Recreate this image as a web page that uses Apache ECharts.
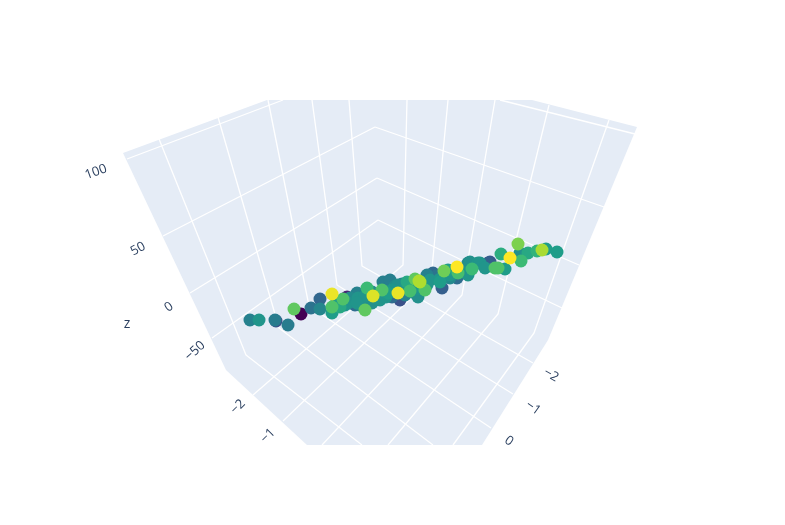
<!DOCTYPE html>
<html><head><meta charset="utf-8">
<style>html,body{margin:0;padding:0;background:#fff}#c{width:785px;height:525px}</style>
<script src="https://cdn.jsdelivr.net/npm/echarts@6/dist/echarts.min.js"></script>
</head><body><div id="c"></div>
<script>
// Plane of the picture: horizontal and vertical readings of each mark
const pointX = [250,259,276,275,288,301,294,311,320,320,332,332,332,343,347,340,348,357,358,355,367,365,365,
  373,382,380,363,383,390,398,400,388,410,415,419,418,423,407,402,427,
  420,425,440,442,444,433,427,457,458,457,453,470,472,478,488,448,463,450,468,
  468,480,490,485,495,498,505,501,510,521,518,520,528,537,546,542,557,
  375,392,405,412,372,395,425,435,340,352,360,
  345,350,372,378,386,392,398,405,412,418,430,436,440,445,450,460,365,357,335,372,390];
const pointY = [320,320,321,320,325,314,309,308,299,309,313,294,307,299,297,307,303,293,298,305,288,310,300,
  296,290,300,298,282,280,293,300,293,291,279,281,297,288,282,284,285,
  282,290,282,288,271,273,275,267,273,278,273,262,269,263,263,270,272,278,275,
  263,263,262,268,268,268,269,254,258,261,244,253,253,251,249,250,252,
  300,297,295,292,292,286,280,278,303,300,305,
  305,298,303,296,297,290,285,288,285,289,280,276,279,277,275,270,296,303,305,299,295];
const pointShade = [.44,.52,.25,.42,.42,0,.75,.38,.33,.46,.55,.97,.72,.72,.1,.6,.5,.44,.52,.35,.68,.75,.5,
  .95,.72,.52,.48,.43,.43,.97,.25,.55,.7,.75,.88,.5,.55,.6,.47,.52,
  .88,.72,.55,.3,.78,.33,.44,1,.7,.35,.52,.5,.68,.52,.3,.55,.52,.47,.52,
  .48,.52,.28,.52,.72,.72,.55,.62,1,.68,.8,.5,.6,.65,.55,.87,.55,
  .3,.35,.45,.48,.48,.48,.35,.3,.52,.45,.45,
  .52,.48,.5,.52,.52,.52,.5,.52,.52,.52,.52,.38,.52,.48,.52,.48,.52,.52,.55,.25,.3];

const paneOutline = [[123,153],[267,100],[532,100],[637,127],[548,340],[482,445],[307,445],[226,370]];

const heightLines = [
  [[127,159],[283,100]], [[163,236],[375,127]], [[190,293],[377,178]], [[212,338],[378,220]],
  [[635,134],[500,100]], [[375,127],[604,207]], [[377,178],[579,265]], [[378,220],[562,308]]
];
const leftAxisLines = [
  [[159,139],[246,355],[362,445]],
  [[218,117],[279,328],[433,445]],
  [[268,100],[309,306],[491,428]],
  [[312,100],[337,285],[513,394]],
  [[349,100],[362,266],[533,363]]
];
const rightAxisLines = [
  [[407,100],[403,265],[253,395]],
  [[448,100],[431,279],[283,421]],
  [[495,100],[462,295],[322,445]],
  [[549,105],[498,314],[388,445]],
  [[609,120],[534,333],[453,445]]
];

const tickTexts = ['100','50','0','\u221250','\u22122','\u22121','\u22122','\u22121','0','z'];
const tickX = [96,138,169,195,238,268,551,533,509,127];
const tickY = [172,249,307,351,407,436,375,408,441,324];
const tickTilt = [20,28,35,42,45,45,-30,-35,-35,0];
const tickSize = [13,13,13,13,13,13,13,13,13,14];

const viridis = ['#440154','#482878','#3e4989','#31688e','#26828e','#1f9e89','#35b779','#6ece58','#b5de2b','#fde725'];

const points = pointX.map((x,i)=>[x,pointY[i],pointShade[i]]).sort((a,b)=>a[2]-b[2]);
const allLines = heightLines.concat(leftAxisLines, rightAxisLines);

const chart = echarts.init(document.getElementById('c'), null, {renderer:'canvas'});
chart.setOption({
  animation:false,
  backgroundColor:'#fff',
  grid:{left:0,right:0,top:0,bottom:0},
  xAxis:{type:'value',min:0,max:785,show:false},
  yAxis:{type:'value',min:0,max:525,inverse:true,show:false},
  tooltip:{show:false},
  visualMap:{show:false,type:'continuous',seriesIndex:allLines.length+1,dimension:2,min:0,max:1,inRange:{color:viridis}},
  series:[
    {type:'custom',silent:true,z:1,coordinateSystem:'cartesian2d',data:[0],
     renderItem:(p,api)=>({type:'polygon',shape:{points:paneOutline.map(c=>api.coord(c))},style:{fill:'#E5ECF6'}})},
    ...allLines.map(l=>({type:'line',data:l,symbol:'none',silent:true,z:2,clip:false,
      lineStyle:{color:'#fff',width:1.3}})),
    {type:'scatter',data:points,symbol:'circle',symbolSize:13,z:3,clip:false,itemStyle:{opacity:1}},
    {type:'custom',silent:true,z:4,coordinateSystem:'cartesian2d',data:tickTexts.map((t,i)=>[tickX[i],tickY[i],i]),
     renderItem:(p,api)=>{
       const i=api.value(2), c=api.coord([api.value(0),api.value(1)]);
       return {type:'text',x:c[0],y:c[1],rotation:tickTilt[i]*Math.PI/180,
         style:{text:tickTexts[i],fill:'#2a3f5f',font:tickSize[i]+'px "Open Sans"',textAlign:'center',textVerticalAlign:'middle'}};
     }}
  ]
});
</script></body></html>
